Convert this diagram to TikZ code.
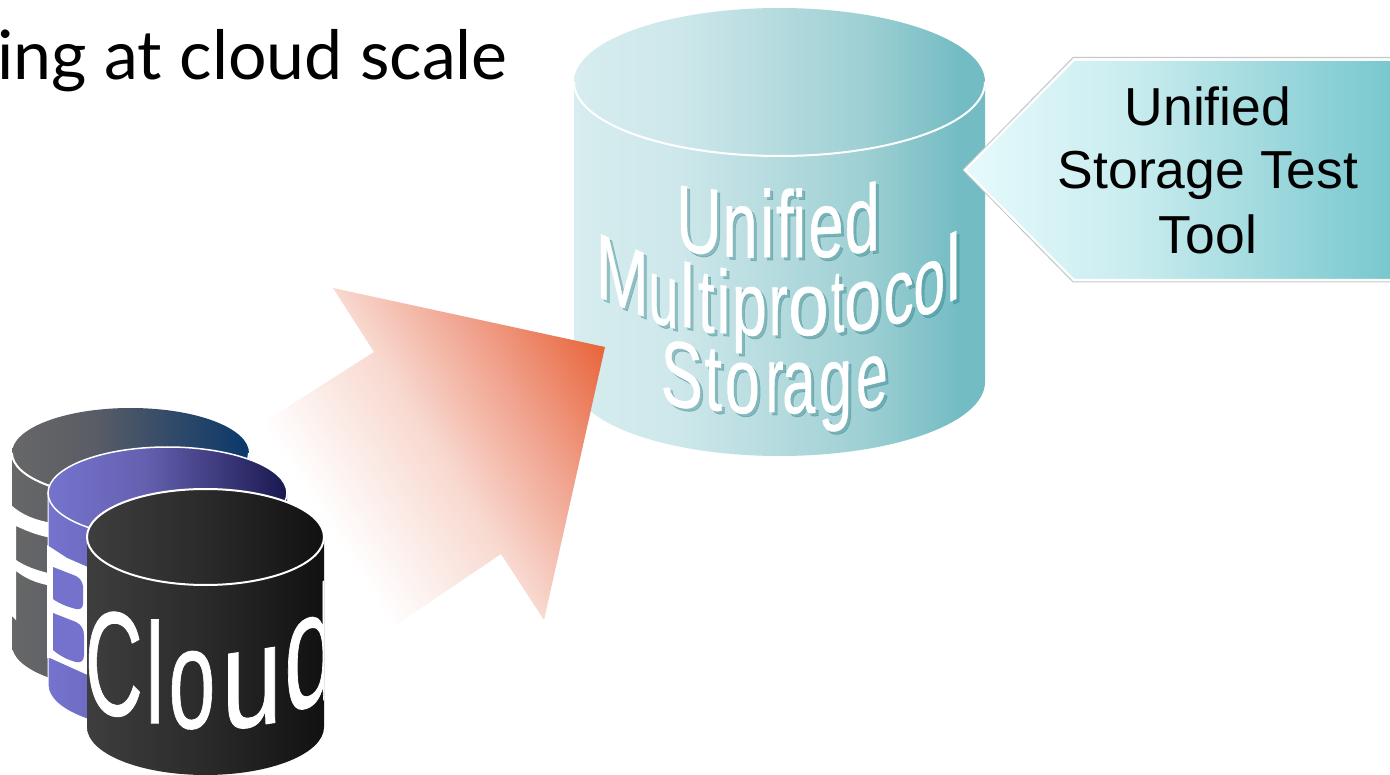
\documentclass[tikz,border=0pt]{standalone}
\usepackage{fontspec}
\usepackage{graphicx}
\newfontfamily\arialf{Liberation Sans}
\newfontfamily\arialw[FakeBold=.7]{Liberation Sans}
\newfontfamily\gillf{Lato}
\definecolor{tA}{HTML}{D7EDEF}\definecolor{tB}{HTML}{CDE7EA}\definecolor{tC}{HTML}{9FD0D4}\definecolor{tD}{HTML}{73BCC3}
\definecolor{gA}{HTML}{676767}\definecolor{gB}{HTML}{5A5D66}\definecolor{gC}{HTML}{0A386B}
\definecolor{pA}{HTML}{7573CE}\definecolor{pB}{HTML}{6561B0}\definecolor{pC}{HTML}{1A1850}
\definecolor{kA}{HTML}{3E3E3E}\definecolor{kB}{HTML}{2A2A2A}\definecolor{kC}{HTML}{111111}
\definecolor{aA}{HTML}{E8643A}\definecolor{aB}{HTML}{F0A08A}\definecolor{aC}{HTML}{F8D9D0}
\definecolor{hA}{HTML}{E6FAFC}\definecolor{hB}{HTML}{C9ECEF}\definecolor{hC}{HTML}{78C8CE}
\definecolor{purp}{HTML}{7472CC}\definecolor{shad}{HTML}{2F7F86}
\pgfdeclarehorizontalshading{tealcyl}{100bp}{color(0bp)=(tA);color(25bp)=(tA);color(38bp)=(tB);color(60bp)=(tC);color(72bp)=(tD);color(100bp)=(tD)}
\pgfdeclarehorizontalshading{graycyl}{100bp}{color(0bp)=(gA);color(25bp)=(gA);color(42bp)=(gB);color(75bp)=(gC);color(100bp)=(gC)}
\pgfdeclarehorizontalshading{purpcyl}{100bp}{color(0bp)=(pA);color(25bp)=(pA);color(45bp)=(pB);color(75bp)=(pC);color(100bp)=(pC)}
\pgfdeclarehorizontalshading{darkcyl}{100bp}{color(0bp)=(kA);color(25bp)=(kA);color(50bp)=(kB);color(75bp)=(kC);color(100bp)=(kC)}
\pgfdeclarehorizontalshading{arrowfade}{100bp}{color(0bp)=(white);color(25bp)=(white);color(45bp)=(aC);color(60bp)=(aB);color(75bp)=(aA);color(100bp)=(aA)}
\pgfdeclarehorizontalshading{toolfade}{100bp}{color(0bp)=(hA);color(25bp)=(hA);color(45bp)=(hB);color(75bp)=(hC);color(100bp)=(hC)}
% half ellipses: centre x, centre y, x radius, y radius
\newcommand\lowarc[4]{({#1-#3},#2) .. controls ({#1-#3},{#2+.5523*#4}) and ({#1-.5523*#3},{#2+#4}) .. (#1,{#2+#4}) .. controls ({#1+.5523*#3},{#2+#4}) and ({#1+#3},{#2+.5523*#4}) .. ({#1+#3},#2)}
\newcommand\uparc[4]{({#1+#3},#2) .. controls ({#1+#3},{#2-.5523*#4}) and ({#1+.5523*#3},{#2-#4}) .. (#1,{#2-#4}) .. controls ({#1-.5523*#3},{#2-#4}) and ({#1-#3},{#2-.5523*#4}) .. ({#1-#3},#2)}
% one warped letter: letter, xscale, yscale, slant, raise
\newcommand\wl[5]{\raisebox{#5pt}{\tikz[x=1pt,y=1pt,baseline=(wlg.base)]\node[inner sep=0pt,outer sep=0pt,font=\wlfont,yslant=#4,xscale=#2,yscale=#3,transform shape](wlg){#1};}}
\newcommand\wlfont{\arialw\fontsize{63}{70}\selectfont}
\newcommand\wordU{\wl{U}{1}{1.5}{-.12}{4}\kern.75pt\wl{n}{1}{1.5}{-.06}{0}\kern2.5pt\wl{i}{1}{1.5}{0}{0}\kern2pt\wl{f}{1}{1.5}{0}{0}\kern-1.5pt\wl{i}{1}{1.5}{0}{0}\kern2.5pt\wl{e}{1}{1.5}{.05}{0}\kern1pt\wl{d}{1}{1.5}{.15}{5}}
\newcommand\wordM{\wl{M}{1}{1.46}{-.44}{28}\wl{u}{.85}{1.44}{-.3}{10}\kern2pt\wl{l}{1}{1.42}{-.2}{8}\kern3.7pt\wl{t}{.95}{1.42}{-.15}{3}\kern1.7pt\wl{i}{1}{1.42}{-.1}{2}\kern1.5pt\wl{p}{1}{1.42}{-.05}{0}\kern2pt\wl{r}{.9}{1.42}{0}{0}\kern.6pt\wl{o}{1.15}{1.42}{.02}{0}\kern2.5pt\wl{t}{.75}{1.42}{.1}{3}\wl{o}{1.05}{1.42}{.15}{5}\kern2.6pt\wl{c}{.95}{1.46}{.3}{12}\wl{o}{.9}{1.5}{.38}{22}\kern1.25pt\wl{l}{1}{1.48}{.45}{35}}
\newcommand\wordS{\wl{S}{1}{1.48}{-.18}{6}\kern1.6pt\wl{t}{1}{1.48}{-.1}{3}\kern3pt\wl{o}{1}{1.48}{-.05}{0}\kern6pt\wl{r}{.85}{1.48}{0}{1}\kern-1.5pt\wl{a}{.95}{1.48}{.02}{0}\kern3.3pt\wl{g}{.95}{1.48}{.1}{1}\kern4pt\wl{e}{.9}{1.48}{.25}{6}}
\begin{document}
\begin{tikzpicture}[x=1pt,y=-1pt,
  edgeline/.style={draw=white,line width=2pt},
  lineword/.style={inner sep=0pt,outer sep=0pt,anchor=base west},
  toolline/.style={font=\arialf\fontsize{53.5}{64}\selectfont,text=black,inner sep=0pt,anchor=base}]
\path[fill=white,use as bounding box] (0,0) rectangle (1390,775);
\node[font=\gillf\fontsize{68}{76}\selectfont,text=black,inner sep=0pt,anchor=base east] (title) at (508,80) {ing at cloud scale};
% big cylinder
\shade[shading=tealcyl] \lowarc{779.5}{382}{205.5}{74} -- \uparc{779.5}{82}{205.5}{74} -- cycle;
\draw[edgeline] \lowarc{779.5}{82}{205.5}{74};
\begin{scope}[opacity=.4,text=shad]
\node[lineword] (sU) at (679.25,260) {\wordU};
\node[lineword] (sM) at (599,338) {\wordM};
\node[lineword] (sS) at (663.7,416) {\wordS};
\end{scope}
\node[lineword,text=white] (tU) at (676.25,257) {\wordU};
\node[lineword,text=white] (tM) at (596,335) {\wordM};
\node[lineword,text=white] (tS) at (660.7,413) {\wordS};
% tool arrow
\shade[shading=toolfade] (963,170) -- (1073,59) -- (1390,59) -- (1390,281) -- (1073,281) -- cycle;
\draw[draw=black!22,line width=1pt] (1390,57.5) -- (1073,57.5) -- (963,170) -- (1073,282) -- (1390,282);
\draw[draw=white,line width=2pt] (1390,60) -- (1074,60) -- (965,170) -- (1074,280) -- (1390,280);
\node[toolline] (tool1) at (1208,126) {Unified};
\node[toolline] (tool2) at (1208,189) {Storage Test};
\node[toolline] (tool3) at (1208,254) {Tool};
% big fading arrow
\begin{scope}
\clip (333,288) -- (605,347) -- (544,620) -- (501,554) -- (300,690) -- (220,450) -- (374,352) -- cycle;
\shade[shading=arrowfade,transform canvas={shift={(605,347)},rotate=32.6}] (-330,-320) rectangle (0,320);
\end{scope}
% grey cylinder
\shade[shading=graycyl] \lowarc{130.5}{645}{118.5}{45} -- \uparc{130.5}{453}{118.5}{45} -- cycle;
\draw[edgeline] \lowarc{130.5}{453}{118.5}{45};
\fill[white] (11,505) .. controls (22,515) and (35,520) .. (52,523) -- (52,538) .. controls (35,535) and (25,530) .. (16,526) -- (16,560) .. controls (25,566) and (35,570) .. (52,574) -- (52,586) .. controls (35,583) and (25,578) .. (16,571) -- (16,620) -- (11,615) -- cycle;
% purple cylinder
\shade[shading=purpcyl] \lowarc{167.5}{685}{119.5}{46} -- \uparc{167.5}{493}{119.5}{46} -- cycle;
\draw[draw=white,line width=1.5pt] \lowarc{167.5}{493}{119.5}{46} -- \uparc{167.5}{493}{119.5}{46} -- cycle;
\draw[draw=white,line width=1pt] \lowarc{167.5}{685}{119.5}{46} (48,493) -- (48,685);
\fill[white] (47,545) -- (67,558) -- (90,568) -- (90,676) -- (50,658) -- (47,658) -- cycle;
\fill[purp] (53,567) -- (76,576) .. controls (82,579) and (84,585) .. (83,592) -- (83,604) .. controls (83,608) and (80,610) .. (76,609) .. controls (68,607) and (60,604) .. (53,599) -- cycle;
\fill[purp] (53,613) -- (76,622) .. controls (82,625) and (84,630) .. (84,636) -- (84,655) .. controls (84,661) and (81,663) .. (76,662) .. controls (68,660) and (60,656) .. (53,650) -- cycle;
% front cylinder
\shade[shading=darkcyl] \lowarc{205.5}{727}{118.5}{48} -- \uparc{205.5}{537}{118.5}{48} -- cycle;
\draw[edgeline] \lowarc{205.5}{537}{118.5}{48} -- \uparc{205.5}{537}{118.5}{48};
\begin{scope}
\clip (80,480) rectangle (324,780);
\renewcommand\wlfont{\arialw\fontsize{84}{90}\selectfont}
\node[lineword,text=white] (cloud) at (85,728) {\wl{C}{.95}{1.76}{-.1}{13}\kern3pt\wl{l}{1}{1.7}{0}{5}\kern4.3pt\wl{o}{1}{1.7}{.05}{0}\kern6.2pt\wl{u}{1.3}{1.7}{.15}{2}\kern2pt\wl{d}{1.15}{1.95}{.4}{23}};
\end{scope}
\end{tikzpicture}
\end{document}
